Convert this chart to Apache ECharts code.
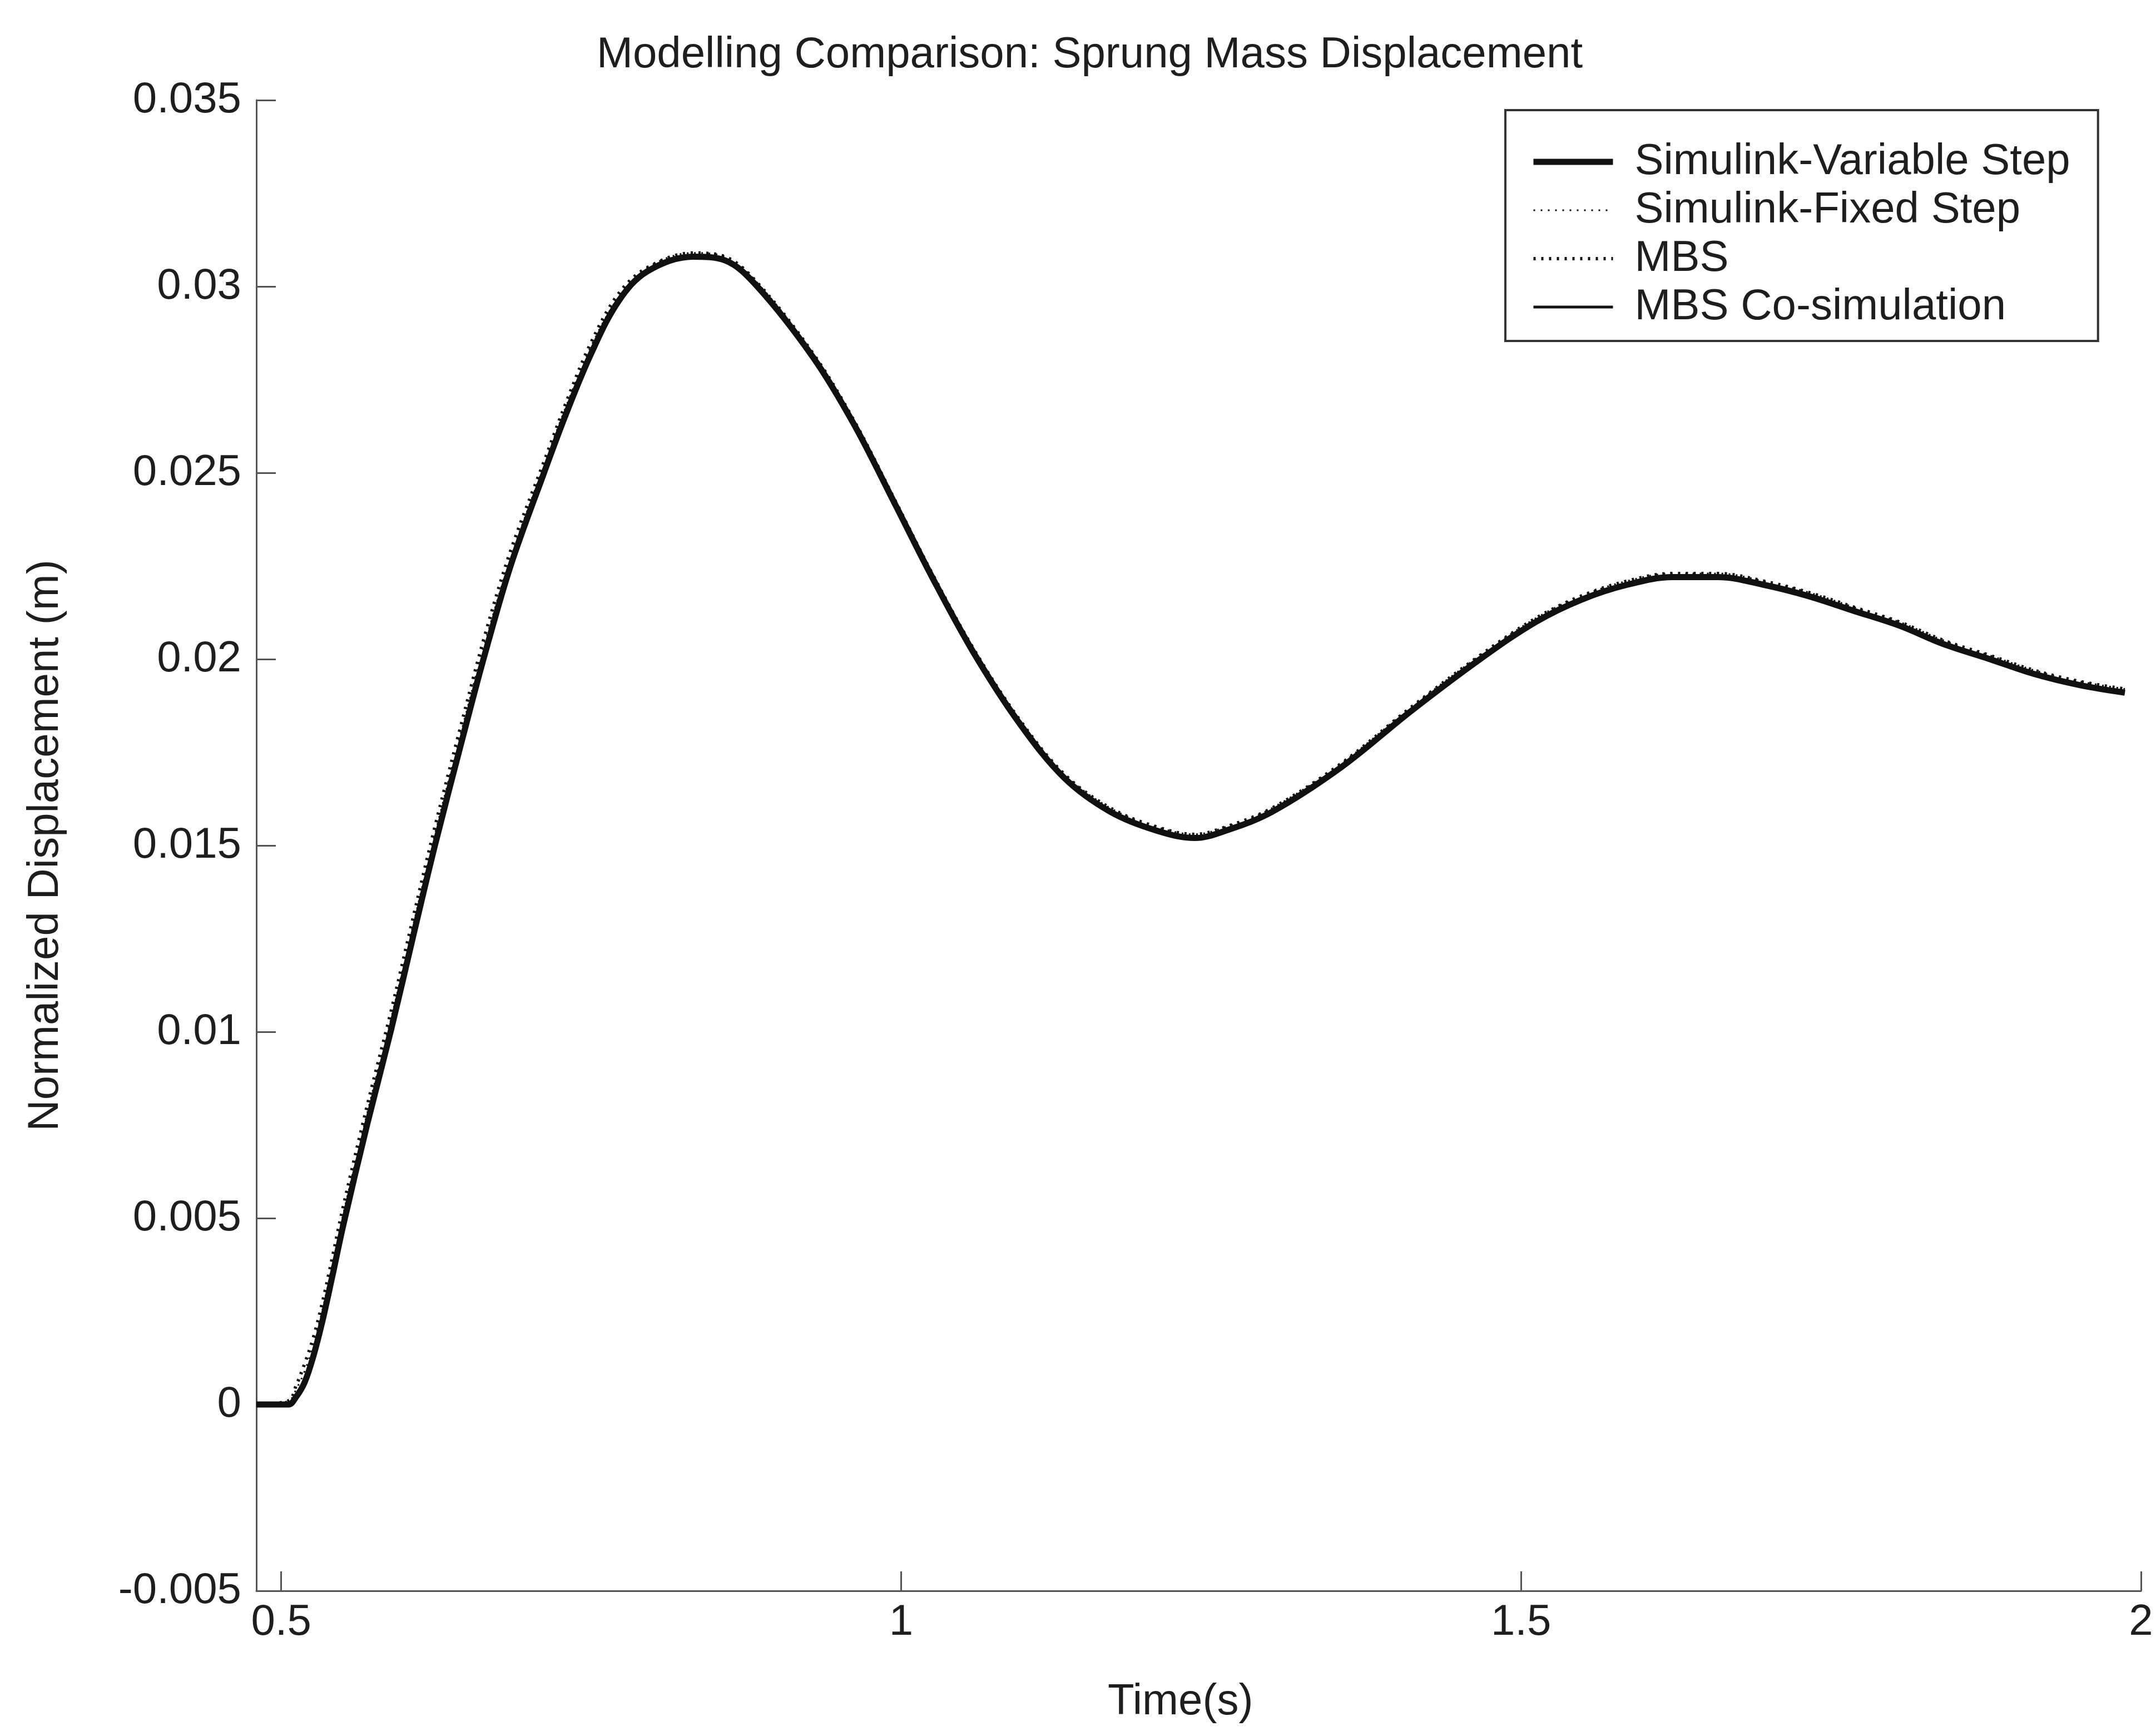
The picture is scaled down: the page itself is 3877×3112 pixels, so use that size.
<!DOCTYPE html>
<html>
<head>
<meta charset="utf-8">
<style>
  html, body { margin: 0; padding: 0; background: #ffffff; }
  #chart { width: 3877px; height: 3112px; }
</style>
<script src="https://cdn.jsdelivr.net/npm/echarts@6/dist/echarts.min.js"></script>
</head>
<body>
<div id="chart"></div>
<script>
// ---- data ----
const time = [0.480, 0.506, 0.512, 0.519, 0.526, 0.533, 0.541, 0.550, 0.570, 0.589,
  0.606, 0.624, 0.648, 0.664, 0.685, 0.712, 0.730, 0.750, 0.772, 0.795,
  0.832, 0.858, 0.884, 0.929, 0.962, 0.996, 1.025, 1.058, 1.095, 1.132,
  1.169, 1.206, 1.237, 1.262, 1.299, 1.355, 1.411, 1.467, 1.512, 1.549,
  1.586, 1.622, 1.659, 1.695, 1.731, 1.768, 1.805, 1.841, 1.878, 1.914,
  1.951, 1.987];

const simulinkVariable = [0, 0, 0.0002, 0.0006, 0.0013, 0.0022, 0.0034, 0.0048, 0.0076, 0.0101,
  0.0125, 0.0150, 0.0181, 0.0201, 0.0225, 0.0250, 0.0266, 0.0282, 0.0296, 0.0304,
  0.0308, 0.0307, 0.0300, 0.0281, 0.0263, 0.0241, 0.0222, 0.0202, 0.0183, 0.0168,
  0.0159, 0.0154, 0.0152, 0.0154, 0.0159, 0.0171, 0.0186, 0.0200, 0.0210, 0.0216,
  0.0220, 0.0222, 0.0222, 0.0220, 0.0217, 0.0213, 0.0209, 0.0204, 0.0200, 0.0196,
  0.0193, 0.0191];

const simulinkFixed = [0, 0.0001, 0.0004, 0.0009, 0.0016, 0.0025, 0.0037, 0.0051, 0.0079, 0.0104,
  0.0128, 0.0153, 0.0184, 0.0204, 0.0227, 0.0252, 0.0268, 0.0284, 0.0297, 0.0305,
  0.0309, 0.0308, 0.0301, 0.0282, 0.0264, 0.0242, 0.0223, 0.0203, 0.0184, 0.0169,
  0.0160, 0.0155, 0.0153, 0.0155, 0.0160, 0.0172, 0.0187, 0.0201, 0.0211, 0.0217,
  0.0221, 0.0223, 0.0223, 0.0221, 0.0218, 0.0214, 0.0210, 0.0205, 0.0201, 0.0197,
  0.0194, 0.0192];

const mbs = [0, 0.0001, 0.0005, 0.0011, 0.0018, 0.0027, 0.0039, 0.0053, 0.0081, 0.0106,
  0.0130, 0.0155, 0.0186, 0.0206, 0.0229, 0.0253, 0.0269, 0.0285, 0.0298, 0.0305,
  0.0309, 0.0308, 0.0301, 0.0282, 0.0264, 0.0242, 0.0223, 0.0203, 0.0184, 0.0169,
  0.0160, 0.0155, 0.0153, 0.0155, 0.0160, 0.0172, 0.0187, 0.0201, 0.0211, 0.0217,
  0.0221, 0.0223, 0.0223, 0.0221, 0.0218, 0.0214, 0.0210, 0.0205, 0.0201, 0.0197,
  0.0194, 0.0192];

const mbsCosim = [0, 0, 0.0002, 0.0006, 0.0013, 0.0022, 0.0034, 0.0048, 0.0076, 0.0101,
  0.0125, 0.0150, 0.0181, 0.0201, 0.0225, 0.0250, 0.0266, 0.0282, 0.0296, 0.0304,
  0.0308, 0.0307, 0.0300, 0.0281, 0.0263, 0.0241, 0.0222, 0.0202, 0.0183, 0.0168,
  0.0159, 0.0154, 0.0152, 0.0154, 0.0159, 0.0171, 0.0186, 0.0200, 0.0210, 0.0216,
  0.0220, 0.0222, 0.0222, 0.0220, 0.0217, 0.0213, 0.0209, 0.0204, 0.0200, 0.0196,
  0.0193, 0.0191];

const seriesNames = ['Simulink-Variable Step', 'Simulink-Fixed Step', 'MBS', 'MBS Co-simulation'];
const xTicks = [0.5, 1, 1.5, 2];
const yMin = -0.005, yMax = 0.035, yStep = 0.005;
const xMin = 0.48, xMax = 2;

const titleText = 'Modelling Comparison: Sprung Mass Displacement';
const xName = 'Time(s)';
const yName = 'Normalized Displacement (m)';

// ---- build ----
function pairs(xs, ys) { return xs.map((x, i) => [x, ys[i]]); }

const FONT = "'Liberation Sans', Arial, Helvetica, sans-serif";
const TXT = '#1e1e1e';
const AX = '#555555';

const chart = echarts.init(document.getElementById('chart'), null, { renderer: 'canvas' });

const styles = [
  { width: 11, type: 'solid', z: 2 },
  { width: 3, type: [3, 10], z: 3 },
  { width: 6, type: [4, 10], z: 3 },
  { width: 5, type: 'solid', z: 4 }
];
const values = [simulinkVariable, simulinkFixed, mbs, mbsCosim];

const option = {
  backgroundColor: '#ffffff',
  animation: false,
  title: [
    { text: titleText, left: 1068, top: 55,
      textStyle: { fontFamily: FONT, fontSize: 78, fontWeight: 'normal', color: TXT } },
    { text: xName, left: 1987, top: 3016,
      textStyle: { fontFamily: FONT, fontSize: 78, fontWeight: 'normal', color: TXT } }
  ],
  grid: { left: 461, right: 27, top: 180, bottom: 252, containLabel: false },
  legend: {
    orient: 'vertical',
    left: 2707, top: 198,
    padding: [54, 50, 22, 45],
    itemGap: 9,
    itemWidth: 143, itemHeight: 14,
    borderColor: '#333333', borderWidth: 4, borderRadius: 0,
    backgroundColor: '#ffffff',
    itemStyle: { opacity: 0 },
    textStyle: { fontFamily: FONT, fontSize: 78, color: TXT, padding: [0, 0, 0, 34] },
    selectedMode: false,
    data: seriesNames.map((n, i) => ({
      name: n,
      itemStyle: { opacity: 0 },
      lineStyle: { width: styles[i].width, type: styles[i].type, color: '#111111' }
    }))
  },
  xAxis: {
    type: 'value', min: xMin, max: xMax,
    axisLine: { show: true, onZero: false, lineStyle: { color: AX, width: 3 } },
    axisTick: { show: true, inside: true, length: 35, customValues: xTicks, lineStyle: { color: AX, width: 3 } },
    axisLabel: { show: true, customValues: xTicks, margin: 18, fontFamily: FONT, fontSize: 78, color: TXT,
      formatter: v => String(v) },
    splitLine: { show: false }
  },
  yAxis: {
    type: 'value', min: yMin, max: yMax, interval: yStep,
    name: yName, nameLocation: 'middle', nameGap: 340, nameRotate: 90,
    nameTextStyle: { fontFamily: FONT, fontSize: 78, color: TXT },
    axisLine: { show: true, onZero: false, lineStyle: { color: AX, width: 3 } },
    axisTick: { show: true, inside: true, length: 35, lineStyle: { color: AX, width: 3 } },
    axisLabel: { show: true, margin: 27, fontFamily: FONT, fontSize: 78, color: TXT,
      formatter: v => String(parseFloat(v.toFixed(4))) },
    splitLine: { show: false }
  },
  series: seriesNames.map((n, i) => ({
    name: n,
    type: 'line',
    data: pairs(time, values[i]),
    showSymbol: false,
    symbol: 'none',
    smooth: 0.35,
    z: styles[i].z,
    lineStyle: { color: '#111111', width: styles[i].width, type: styles[i].type },
    itemStyle: { color: '#111111' }
  }))
};

chart.setOption(option);
</script>
</body>
</html>
